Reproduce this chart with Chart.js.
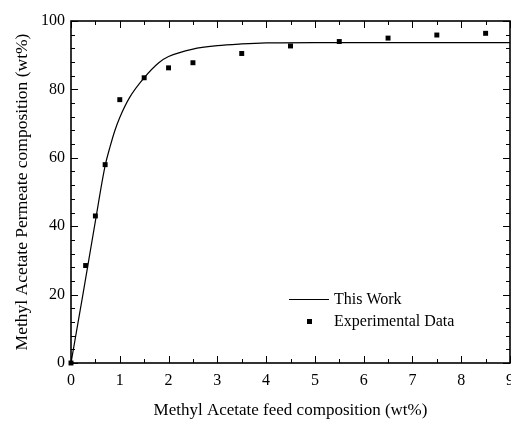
<!DOCTYPE html>
<html>
<head>
<meta charset="utf-8">
<script src="https://cdn.jsdelivr.net/npm/chart.js@4/dist/chart.umd.min.js"></script>
<style>
  html, body { margin: 0; padding: 0; background: #fff; }
  canvas { display: block; }
</style>
</head>
<body>
<canvas id="chart" width="511" height="421"></canvas>
<script>
// experimental points
const feedExp = [0, 0.3, 0.5, 0.7, 1.0, 1.5, 2.0, 2.5, 3.5, 4.5, 5.5, 6.5, 7.5, 8.5]
const permeateExp = [0, 28.5, 43, 58, 77, 83.4, 86.3, 87.8, 90.5, 92.7, 94.0, 95.0, 95.9, 96.4]

// model curve ("This Work")
const feedModel = [0, 0.25, 0.5, 0.7, 0.8, 0.9, 1.0, 1.2, 1.5, 1.8, 2.0, 2.5, 3.0, 3.5, 4.0, 5.0, 6.0, 7.0, 8.0, 9.0]
const permeateModel = [0, 20.5, 41.5, 57.7, 63.2, 68, 71.8, 77.6, 83.4, 87.8, 89.6, 91.8, 92.8, 93.3, 93.6, 93.7, 93.7, 93.7, 93.7, 93.7]

const xTicks = [0, 1, 2, 3, 4, 5, 6, 7, 8, 9]
const yTicks = [0, 20, 40, 60, 80, 100]
const xMinorStep = 0.5
const yMinorStep = 4

const SERIF = '"Liberation Serif", "Times New Roman", serif'

const toPoints = (xs, ys) => xs.map((x, i) => ({ x, y: ys[i] }))

// frame + inward tick marks, like the original plot
const framePlugin = {
  id: 'frame',
  afterDraw(chart) {
    const { ctx, chartArea: a, scales: { x, y } } = chart
    ctx.save()
    ctx.strokeStyle = '#000'
    ctx.lineWidth = 1
    ctx.beginPath()
    for (let v = xTicks[0]; v <= xTicks[xTicks.length - 1] + 1e-9; v += xMinorStep) {
      const px = Math.round(x.getPixelForValue(v)) + 0.5
      const len = xTicks.includes(v) ? 7 : 4
      ctx.moveTo(px, a.bottom); ctx.lineTo(px, a.bottom - len)
      ctx.moveTo(px, a.top); ctx.lineTo(px, a.top + len)
    }
    for (let v = yTicks[0]; v <= yTicks[yTicks.length - 1] + 1e-9; v += yMinorStep) {
      const py = Math.round(y.getPixelForValue(v)) + 0.5
      const len = yTicks.includes(v) ? 7 : 4
      ctx.moveTo(a.left, py); ctx.lineTo(a.left + len, py)
      ctx.moveTo(a.right, py); ctx.lineTo(a.right - len, py)
    }
    ctx.stroke()
    ctx.lineWidth = 1.6
    ctx.strokeRect(a.left, a.top, a.right - a.left, a.bottom - a.top)
    ctx.restore()
  },
}

// legend sits inside the plot, lower right
const legendPlugin = {
  id: 'insideLegend',
  afterDraw(chart) {
    const { ctx, chartArea: a } = chart
    const x0 = a.left + 218
    const y0 = a.bottom - 64
    ctx.save()
    ctx.strokeStyle = '#000'
    ctx.lineWidth = 1.2
    ctx.beginPath()
    ctx.moveTo(x0, y0 + 0.5); ctx.lineTo(x0 + 40, y0 + 0.5)
    ctx.stroke()
    ctx.fillStyle = '#000'
    ctx.fillRect(x0 + 18, y0 + 20, 5, 5)
    ctx.font = '16px ' + SERIF
    ctx.textBaseline = 'middle'
    ctx.fillText('This Work', x0 + 45, y0 + 1)
    ctx.fillText('Experimental Data', x0 + 45, y0 + 23)
    ctx.restore()
  },
}

new Chart(document.getElementById('chart'), {
  type: 'scatter',
  data: {
    datasets: [
      {
        label: 'This Work',
        type: 'line',
        data: toPoints(feedModel, permeateModel),
        borderColor: '#000',
        borderWidth: 1.2,
        pointRadius: 0,
        cubicInterpolationMode: 'monotone',
        fill: false,
      },
      {
        label: 'Experimental Data',
        data: toPoints(feedExp, permeateExp),
        pointStyle: 'rect',
        pointRadius: 3.5,
        backgroundColor: '#000',
        borderColor: '#000',
        borderWidth: 0,
        clip: false,
      },
    ],
  },
  options: {
    responsive: false,
    animation: false,
    layout: { autoPadding: false, padding: { top: 21, right: 1, left: 0, bottom: 0 } },
    plugins: {
      legend: { display: false },
      tooltip: { enabled: false },
    },
    scales: {
      x: {
        type: 'linear',
        min: 0,
        max: 9,
        afterBuildTicks: s => { s.ticks = xTicks.map(v => ({ value: v })) },
        afterFit: s => { s.height = 58; s.paddingLeft = 0; s.paddingRight = 0 },
        ticks: { color: '#000', font: { family: SERIF, size: 16 }, padding: 8, maxRotation: 0 },
        grid: { display: false, drawTicks: false },
        border: { display: false },
        title: {
          display: true,
          text: 'Methyl Acetate feed composition (wt%)',
          color: '#000',
          font: { family: SERIF, size: 17 },
          padding: { top: 8, bottom: 0 },
        },
      },
      y: {
        type: 'linear',
        min: 0,
        max: 100,
        afterBuildTicks: s => { s.ticks = yTicks.map(v => ({ value: v })) },
        afterFit: s => { s.width = 71; s.paddingTop = 0; s.paddingBottom = 0 },
        ticks: { color: '#000', font: { family: SERIF, size: 16 }, padding: 6 },
        grid: { display: false, drawTicks: false },
        border: { display: false },
        title: {
          display: true,
          text: 'Methyl Acetate Permeate composition (wt%)',
          color: '#000',
          font: { family: SERIF, size: 17.5 },
          padding: { top: 12, bottom: 4 },
        },
      },
    },
  },
  plugins: [framePlugin, legendPlugin],
})
</script>
</body>
</html>
